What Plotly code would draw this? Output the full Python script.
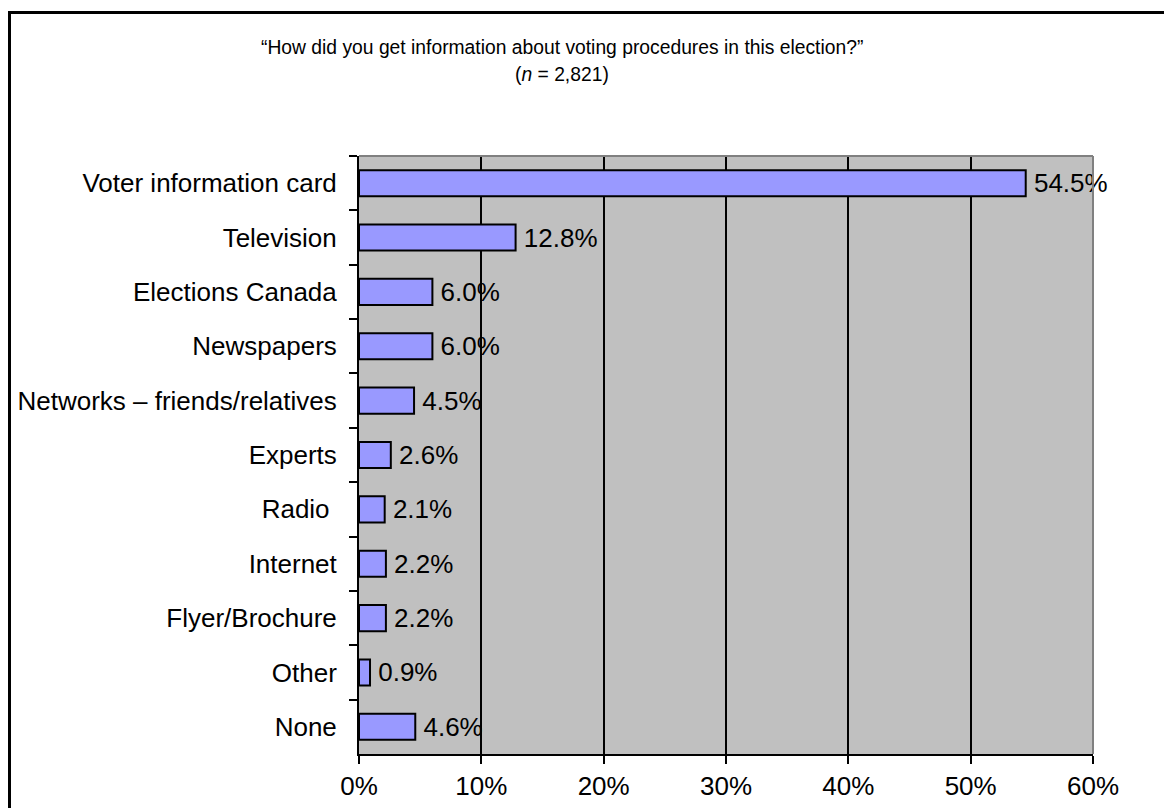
import plotly.graph_objects as go

categories = ["Voter information card", "Television", "Elections Canada", "Newspapers",
              "Networks – friends/relatives", "Experts", "Radio\u00a0", "Internet",
              "Flyer/Brochure", "Other", "None"]
values = [54.5, 12.8, 6.0, 6.0, 4.5, 2.6, 2.1, 2.2, 2.2, 0.9, 4.6]
labels = ["54.5%", "12.8%", "6.0%", "6.0%", "4.5%", "2.6%", "2.1%", "2.2%", "2.2%", "0.9%", "4.6%"]
xticks = [0, 10, 20, 30, 40, 50, 60]
xticklabels = ["0%", "10%", "20%", "30%", "40%", "50%", "60%"]

# page body has an 8px margin; coordinates below are compensated
OFF = 8
W, H = 1172, 808
L, T = 359 - OFF, 156 - OFF
R = W - (1093 - OFF)
B = H - (754 - OFF)
pw, ph = W - L - R, H - T - B

def px(x):
    return (x - OFF - L) / pw

def py(y):
    return (H - B - (y - OFF)) / ph

FONT = "Liberation Sans, Arial, sans-serif"
FS = 26

fig = go.Figure(go.Bar(
    x=values, y=categories, orientation="h",
    marker=dict(color="#9999FF", line=dict(color="black", width=2)),
    text=labels, texttemplate="\u2009%{text}", textposition="outside", cliponaxis=False,
    constraintext="none",
    textfont=dict(size=FS, color="black", family=FONT),
    width=0.48,
))

fig.update_layout(
    width=W, height=H,
    margin=dict(l=L, r=R, t=T, b=B, autoexpand=False),
    paper_bgcolor="white", plot_bgcolor="#C0C0C0",
    font=dict(family=FONT, size=FS, color="black"),
    showlegend=False,
    xaxis=dict(range=[0, 60], tickvals=xticks, ticktext=xticklabels,
               showgrid=True, gridcolor="black", gridwidth=2,
               showline=True, linecolor="black", linewidth=2,
               ticks="outside", ticklen=8, tickwidth=2, tickcolor="black",
               tickfont=dict(size=FS), zeroline=False),
    yaxis=dict(categoryorder="array", categoryarray=categories, autorange="reversed",
               showgrid=False, showline=True, linecolor="black", linewidth=2,
               ticks="outside", ticklen=8, tickwidth=2, tickcolor="black",
               tickson="boundaries", tickfont=dict(size=FS), ticklabelstandoff=15),
    shapes=[
        dict(type="line", xref="paper", yref="paper", x0=0, x1=1, y0=1, y1=1,
             line=dict(color="#808080", width=2), layer="above"),
        dict(type="line", xref="paper", yref="paper", x0=1, x1=1, y0=0, y1=1,
             line=dict(color="#808080", width=2), layer="above"),
        dict(type="rect", xref="paper", yref="paper",
             x0=px(9.5), x1=px(1250), y0=py(12.5), y1=py(900),
             line=dict(color="black", width=3), layer="above"),
    ],
    annotations=[
        dict(text="“How did you get information about voting procedures in this election?”",
             xref="paper", yref="paper", x=px(562), y=py(47), showarrow=False,
             xanchor="center", yanchor="middle", font=dict(size=19.3)),
        dict(text="(<i>n</i> = 2,821)",
             xref="paper", yref="paper", x=px(562), y=py(75), showarrow=False,
             xanchor="center", yanchor="middle", font=dict(size=19.3)),
    ],
)

fig.write_html("out.html")
